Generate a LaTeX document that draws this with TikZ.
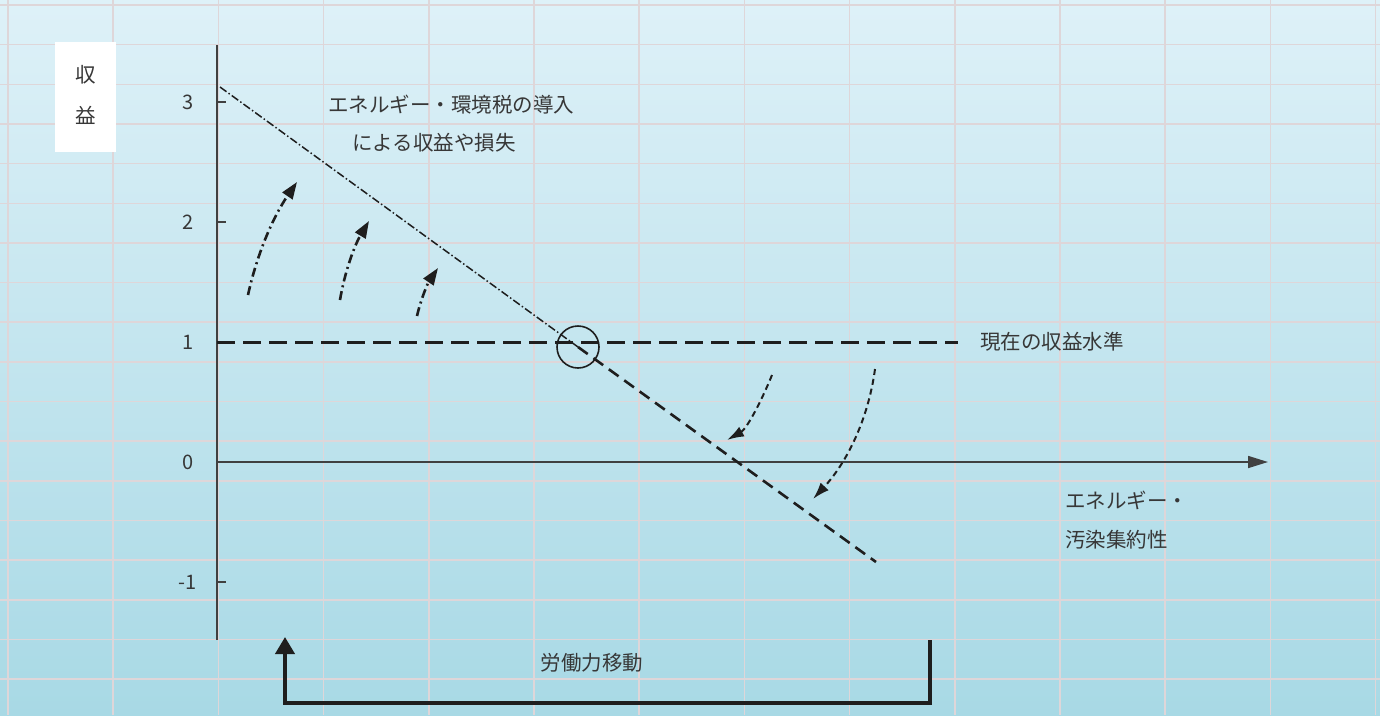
\documentclass[tikz,border=0pt]{standalone}
\usepackage{fontspec}
\setmainfont{Noto Sans CJK JP}
\usetikzlibrary{arrows.meta}
\definecolor{bgtop}{RGB}{222,241,248}
\definecolor{bgbot}{RGB}{168,217,229}
\definecolor{gridc}{RGB}{222,214,217}
\definecolor{ink}{RGB}{30,30,30}
\definecolor{txt}{RGB}{55,55,55}
\tikzset{
  gridline/.style={draw=gridc,line width=1.5pt},
  axisline/.style={draw=ink!85,line width=1.6pt},
  lab/.style={text=txt,font=\fontsize{20.5}{24}\selectfont,inner sep=0pt},
  ticklab/.style={text=txt,font=\fontsize{20}{24}\selectfont,inner sep=0pt},
  taxline/.style={draw=ink,line width=1.5pt,dash pattern=on 8pt off 2.5pt on 1.5pt off 2.5pt},
  lossline/.style={draw=ink,line width=2.6pt,dash pattern=on 12pt off 7pt},
  levelline/.style={draw=ink,line width=3pt,dash pattern=on 18pt off 8pt},
  uparrow/.style={draw=ink,line width=2.6pt,dash pattern=on 9pt off 4pt on 2pt off 4pt,
     -{Triangle[length=17pt,width=12pt]}},
  downarrow/.style={draw=ink,line width=2pt,dash pattern=on 6pt off 4pt,
     -{Latex[length=17pt,width=11pt]}},
  movearrow/.style={draw=ink,line width=4pt,line join=miter,-{Triangle[length=17pt,width=19pt]}},
}
\begin{document}
\begin{tikzpicture}[x=1pt,y=-1pt]
\shade[top color=bgtop,bottom color=bgbot] (0,0) rectangle (1380,715);
\useasboundingbox (0,0) rectangle (1380,715);
% grid
\foreach \i in {0,...,13} \draw[gridline] ({8+105.2*\i},0) -- ({8+105.2*\i},715);
\foreach \j in {0,...,17} \draw[gridline] (0,{5+39.65*\j}) -- (1380,{5+39.65*\j});
% y label box
\node[fill=white,minimum width=61pt,minimum height=110pt,inner sep=0pt] (ybox) at (85.5,97) {};
\node[lab] (ylabA) at (85.5,75) {収};
\node[lab] (ylabB) at (85.5,115) {益};
% axes
\coordinate (ytop) at (217,45);
\coordinate (ybot) at (217,640);
\coordinate (O) at (217,462);
\coordinate (xend) at (1268,462);
\draw[axisline] (ybot) -- (ytop);
\draw[axisline,-{Triangle[length=20pt,width=12pt]}] (O) -- (xend);
\foreach \v/\y/\n in {3/102/a,2/222/b,1/342/c,0/462/d,-1/582/e} {
  \draw[axisline] (217,\y) -- (226,\y);
  \node[ticklab] (tick\n) at (188,\y) {\v};
}
% current level
\coordinate (cL) at (217,342);
\coordinate (cR) at (958,342);
\draw[levelline] (cL) -- (cR);
\node[lab,anchor=west] (curlab) at (980,342) {現在の収益水準};
% tax line
\coordinate (tA) at (220,87);
\coordinate (tB) at (876,562);
\node[circle,draw=ink,line width=1.6pt,minimum size=42pt,inner sep=0pt] (pt) at (578,347) {};
\draw[taxline] (tA) -- (pt.center);
\draw[lossline] (pt.center) -- (tB);
% labels
\node[lab,anchor=west] (taxA) at (328,105) {エネルギー・環境税の導入};
\node[lab,anchor=west] (taxB) at (352,143) {による収益や損失};
\node[lab,anchor=west] (xlA) at (1065,500) {エネルギー・};
\node[lab,anchor=west] (xlB) at (1065,540) {汚染集約性};
% up arrows
\coordinate (u1s) at (248,295); \coordinate (u1e) at (297,182);
\coordinate (u2s) at (340,300); \coordinate (u2e) at (369,221);
\coordinate (u3s) at (417,316); \coordinate (u3e) at (438,268);
\draw[uparrow] (u1s) .. controls (257,254) and (273,217) .. (u1e);
\draw[uparrow] (u2s) .. controls (344.7,272) and (354.3,245.7) .. (u2e);
\draw[uparrow] (u3s) .. controls (421,298.7) and (428,282.7) .. (u3e);
% down arrows
\coordinate (d1s) at (772,375); \coordinate (d1e) at (727,440);
\coordinate (d2s) at (875,369); \coordinate (d2e) at (813,499);
\draw[downarrow] (d1s) .. controls (762,399.7) and (747,428.7) .. (d1e);
\draw[downarrow] (d2s) .. controls (868.3,419) and (847,462.3) .. (d2e);
% labour movement
\coordinate (mR) at (930,640);
\coordinate (mRb) at (930,703);
\coordinate (mLb) at (285,703);
\coordinate (mL) at (285,637);
\draw[movearrow] (mR) -- (mRb) -- (mLb) -- (mL);
\node[lab] (movelab) at (592,663) {労働力移動};
\end{tikzpicture}
\end{document}
